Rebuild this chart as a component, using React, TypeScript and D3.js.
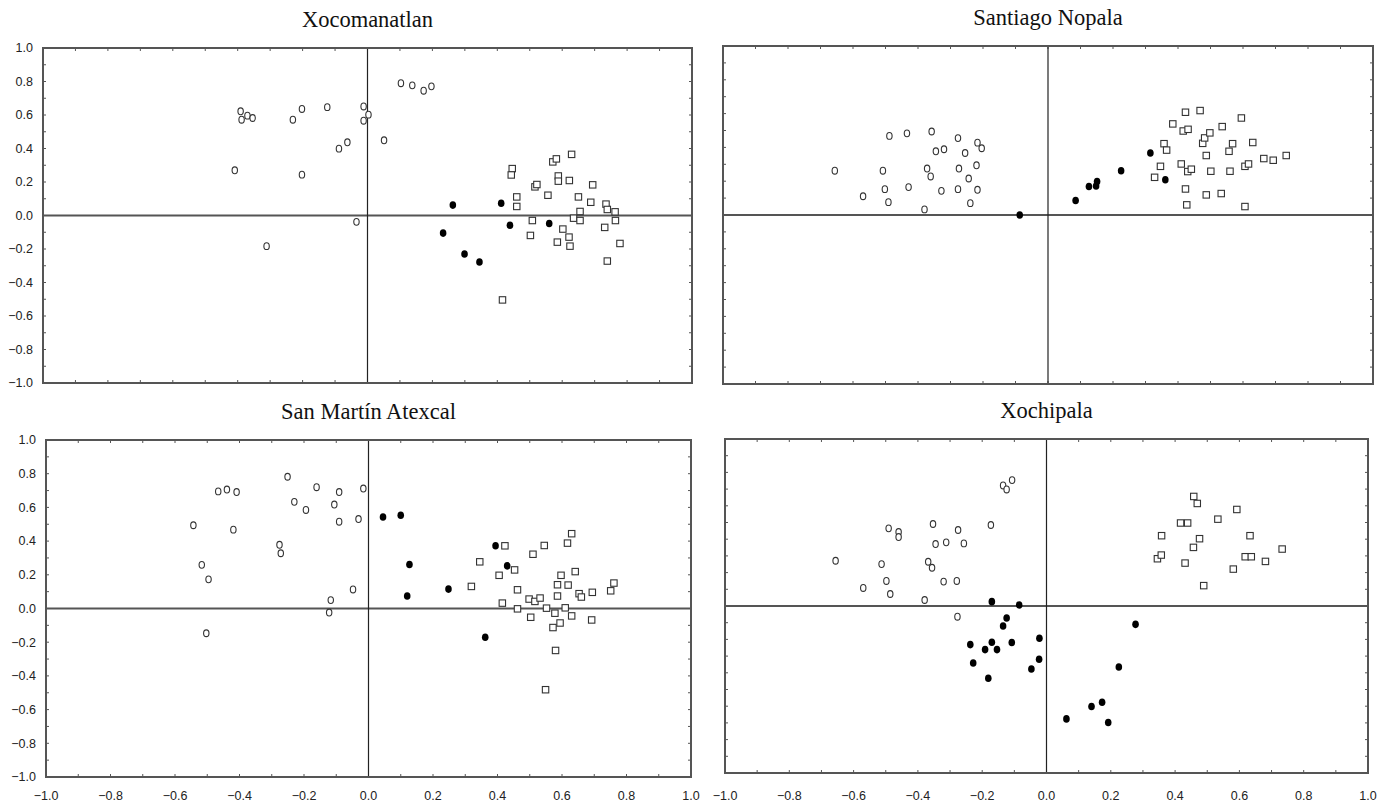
import React from "react";
import * as d3 from "d3";

// ---------- DATA ----------
type P = [number, number];

const panelTitles = ["Xocomanatlan", "Santiago Nopala", "San Martín Atexcal", "Xochipala"];
const tickValues = [-1.0, -0.8, -0.6, -0.4, -0.2, 0.0, 0.2, 0.4, 0.6, 0.8, 1.0];
const minorTicks = d3.range(-10, 11).map((i) => i / 10);

// Xocomanatlan
const xocoOpen: P[] = [
  [-0.391, 0.622], [-0.388, 0.572], [-0.37, 0.596], [-0.354, 0.582], [-0.409, 0.27],
  [-0.311, -0.183], [-0.23, 0.572], [-0.202, 0.636], [-0.202, 0.244], [-0.124, 0.647],
  [-0.088, 0.399], [-0.062, 0.437], [-0.012, 0.651], [-0.012, 0.566], [0.003, 0.602],
  [-0.034, -0.038], [0.051, 0.449], [0.103, 0.79], [0.138, 0.777], [0.173, 0.745], [0.197, 0.771],
];
const xocoFilled: P[] = [
  [0.263, 0.062], [0.233, -0.105], [0.299, -0.23], [0.345, -0.278], [0.412, 0.073],
  [0.439, -0.058], [0.56, -0.048],
];
const xocoSquare: P[] = [
  [0.446, 0.28], [0.443, 0.242], [0.46, 0.111], [0.46, 0.054], [0.416, -0.504],
  [0.516, 0.171], [0.522, 0.185], [0.508, -0.03], [0.502, -0.119], [0.556, 0.121],
  [0.571, 0.32], [0.582, 0.338], [0.588, 0.236], [0.588, 0.205], [0.585, -0.159],
  [0.602, -0.081], [0.622, 0.209], [0.621, -0.129], [0.624, -0.183], [0.629, 0.365],
  [0.635, -0.016], [0.65, 0.111], [0.655, 0.024], [0.655, -0.03], [0.688, 0.079],
  [0.694, 0.183], [0.731, -0.071], [0.735, 0.068], [0.739, 0.036], [0.739, -0.272],
  [0.763, 0.022], [0.764, -0.03], [0.778, -0.167],
];

// Santiago Nopala
const nopalaOpen: P[] = [
  [-0.656, 0.262], [-0.569, 0.111], [-0.508, 0.262], [-0.502, 0.153], [-0.491, 0.076],
  [-0.488, 0.468], [-0.434, 0.483], [-0.429, 0.165], [-0.38, 0.033], [-0.372, 0.275],
  [-0.361, 0.228], [-0.358, 0.494], [-0.345, 0.377], [-0.32, 0.389], [-0.328, 0.143],
  [-0.277, 0.455], [-0.274, 0.275], [-0.277, 0.153], [-0.255, 0.367], [-0.244, 0.216],
  [-0.239, 0.07], [-0.22, 0.294], [-0.217, 0.149], [-0.217, 0.428], [-0.204, 0.395],
];
const nopalaFilled: P[] = [
  [-0.087, 0.0], [0.085, 0.086], [0.126, 0.169], [0.148, 0.172], [0.151, 0.198],
  [0.225, 0.262], [0.315, 0.367], [0.361, 0.209],
];
const nopalaSquare: P[] = [
  [0.328, 0.223], [0.346, 0.288], [0.357, 0.422], [0.365, 0.384], [0.384, 0.539],
  [0.41, 0.302], [0.416, 0.497], [0.423, 0.608], [0.423, 0.154], [0.427, 0.06],
  [0.431, 0.507], [0.43, 0.257], [0.441, 0.271], [0.468, 0.618], [0.476, 0.424],
  [0.482, 0.456], [0.487, 0.352], [0.487, 0.119], [0.498, 0.486], [0.501, 0.259],
  [0.533, 0.127], [0.536, 0.523], [0.557, 0.377], [0.56, 0.259], [0.568, 0.422],
  [0.595, 0.574], [0.606, 0.288], [0.606, 0.05], [0.617, 0.302], [0.63, 0.429],
  [0.664, 0.334], [0.693, 0.324], [0.733, 0.352],
];

// San Martín Atexcal
const atexcalOpen: P[] = [
  [-0.543, 0.494], [-0.517, 0.259], [-0.496, 0.173], [-0.503, -0.147], [-0.466, 0.695],
  [-0.439, 0.706], [-0.409, 0.691], [-0.419, 0.468], [-0.276, 0.378], [-0.272, 0.328],
  [-0.251, 0.782], [-0.23, 0.633], [-0.194, 0.585], [-0.161, 0.72], [-0.106, 0.617],
  [-0.091, 0.691], [-0.091, 0.515], [-0.117, 0.05], [-0.122, -0.024], [-0.048, 0.113],
  [-0.031, 0.531], [-0.016, 0.712],
];
const atexcalFilled: P[] = [
  [0.045, 0.543], [0.1, 0.553], [0.127, 0.261], [0.12, 0.074], [0.248, 0.115],
  [0.394, 0.372], [0.43, 0.253], [0.362, -0.171],
];
const atexcalSquare: P[] = [
  [0.319, 0.131], [0.345, 0.277], [0.405, 0.197], [0.415, 0.032], [0.423, 0.372],
  [0.453, 0.229], [0.462, 0.111], [0.462, -0.002], [0.498, 0.056], [0.503, -0.052],
  [0.51, 0.322], [0.516, 0.042], [0.532, 0.062], [0.545, 0.374], [0.552, 0.002],
  [0.549, -0.482], [0.572, -0.113], [0.578, -0.028], [0.58, -0.249], [0.586, 0.141],
  [0.586, 0.074], [0.594, -0.086], [0.597, 0.197], [0.61, 0.004], [0.617, 0.388],
  [0.619, 0.139], [0.63, -0.044], [0.63, 0.444], [0.641, 0.219], [0.653, 0.088],
  [0.66, 0.068], [0.692, -0.068], [0.694, 0.096], [0.751, 0.105], [0.761, 0.151],
];

// Xochipala
const xochiOpen: P[] = [
  [-0.656, 0.271], [-0.57, 0.108], [-0.513, 0.251], [-0.498, 0.15], [-0.486, 0.072],
  [-0.491, 0.465], [-0.46, 0.443], [-0.46, 0.413], [-0.379, 0.036], [-0.368, 0.265],
  [-0.356, 0.229], [-0.353, 0.491], [-0.345, 0.371], [-0.312, 0.381], [-0.32, 0.146],
  [-0.279, 0.15], [-0.275, 0.455], [-0.277, -0.064], [-0.257, 0.375], [-0.173, 0.485],
  [-0.135, 0.722], [-0.124, 0.698], [-0.107, 0.754],
];
const xochiFilled: P[] = [
  [-0.17, 0.026], [-0.085, 0.006], [-0.124, -0.072], [-0.135, -0.12], [-0.237, -0.231],
  [-0.17, -0.217], [-0.191, -0.261], [-0.154, -0.261], [-0.108, -0.219], [-0.022, -0.193],
  [-0.228, -0.341], [-0.181, -0.433], [-0.047, -0.377], [-0.023, -0.319], [0.277, -0.11],
  [0.225, -0.365], [0.14, -0.602], [0.173, -0.576], [0.192, -0.698], [0.062, -0.676],
];
const xochiSquare: P[] = [
  [0.345, 0.283], [0.357, 0.305], [0.358, 0.421], [0.417, 0.497], [0.439, 0.497],
  [0.431, 0.257], [0.458, 0.656], [0.469, 0.614], [0.457, 0.351], [0.476, 0.403],
  [0.489, 0.122], [0.533, 0.52], [0.581, 0.221], [0.592, 0.578], [0.618, 0.295],
  [0.637, 0.295], [0.633, 0.421], [0.681, 0.267], [0.733, 0.341],
];

// ---------- LAYOUT ----------
const W = 1380;
const H = 804;

interface PanelDef {
  title: string;
  left: number; right: number; top: number; bottom: number;
  yLabels: boolean; xLabels: boolean;
  open: P[]; filled: P[]; square: P[];
}

const panels: PanelDef[] = [
  { title: panelTitles[0], left: 43, right: 692, top: 48, bottom: 383, yLabels: true, xLabels: false,
    open: xocoOpen, filled: xocoFilled, square: xocoSquare },
  { title: panelTitles[1], left: 723, right: 1373, top: 46, bottom: 384, yLabels: false, xLabels: false,
    open: nopalaOpen, filled: nopalaFilled, square: nopalaSquare },
  { title: panelTitles[2], left: 46, right: 691, top: 440, bottom: 777, yLabels: true, xLabels: true,
    open: atexcalOpen, filled: atexcalFilled, square: atexcalSquare },
  { title: panelTitles[3], left: 725, right: 1368, top: 439, bottom: 773, yLabels: false, xLabels: true,
    open: xochiOpen, filled: xochiFilled, square: xochiSquare },
];

const fmt = d3.format(".1f");
const labelFont = "'Liberation Sans', Arial, sans-serif";
const titleFont = "'Liberation Serif', 'Times New Roman', serif";

function Panel({ p }: { p: PanelDef }) {
  const x = d3.scaleLinear().domain([-1, 1]).range([p.left, p.right]);
  const y = d3.scaleLinear().domain([-1, 1]).range([p.bottom, p.top]);
  const tl = 3;
  return (
    <g>
      <text x={(p.left + p.right) / 2} y={p.top - 21} textAnchor="middle"
        fontFamily={titleFont} fontSize={22.5} fill="#111">{p.title}</text>
      {/* minor ticks */}
      {minorTicks.map((t, i) => (
        <g key={"t" + i} stroke="#555" strokeWidth={1}>
          <line x1={x(t)} x2={x(t)} y1={p.bottom} y2={p.bottom - tl} />
          <line x1={x(t)} x2={x(t)} y1={p.top} y2={p.top + tl} />
          <line x1={p.left} x2={p.left + tl} y1={y(t)} y2={y(t)} />
          <line x1={p.right} x2={p.right - tl} y1={y(t)} y2={y(t)} />
        </g>
      ))}
      {/* zero lines */}
      <line x1={p.left} x2={p.right} y1={y(0)} y2={y(0)} stroke="#555" strokeWidth={2} />
      <line x1={x(0)} x2={x(0)} y1={p.top} y2={p.bottom} stroke="#222" strokeWidth={1.2} />
      {/* frame */}
      <rect x={p.left} y={p.top} width={p.right - p.left} height={p.bottom - p.top}
        fill="none" stroke="#555" strokeWidth={2} />
      {p.yLabels && tickValues.map((t, i) => (
        <text key={"yl" + i} x={p.left - 10} y={y(t)} dy="0.35em" textAnchor="end"
          fontFamily={labelFont} fontSize={12.5} fill="#222">{fmt(t)}</text>
      ))}
      {p.xLabels && tickValues.map((t, i) => (
        <text key={"xl" + i} x={x(t)} y={800} textAnchor="middle"
          fontFamily={labelFont} fontSize={12.5} fill="#222">{fmt(t)}</text>
      ))}
      {/* markers */}
      {p.open.map((d, i) => (
        <ellipse key={"o" + i} cx={x(d[0])} cy={y(d[1])} rx={2.7} ry={3.4}
          fill="white" stroke="#333" strokeWidth={1.1} />
      ))}
      {p.square.map((d, i) => (
        <rect key={"s" + i} x={x(d[0]) - 3.2} y={y(d[1]) - 3.2} width={6.4} height={6.4}
          fill="white" stroke="#333" strokeWidth={1.1} />
      ))}
      {p.filled.map((d, i) => (
        <ellipse key={"f" + i} cx={x(d[0])} cy={y(d[1])} rx={3.3} ry={3.8} fill="#000" />
      ))}
    </g>
  );
}

export default function App() {
  return (
    <svg width={W} height={H} style={{ position: "absolute", left: 0, top: 0, background: "white" }}>
      <rect x={0} y={0} width={W} height={H} fill="white" />
      {panels.map((p, i) => <Panel key={i} p={p} />)}
    </svg>
  );
}
